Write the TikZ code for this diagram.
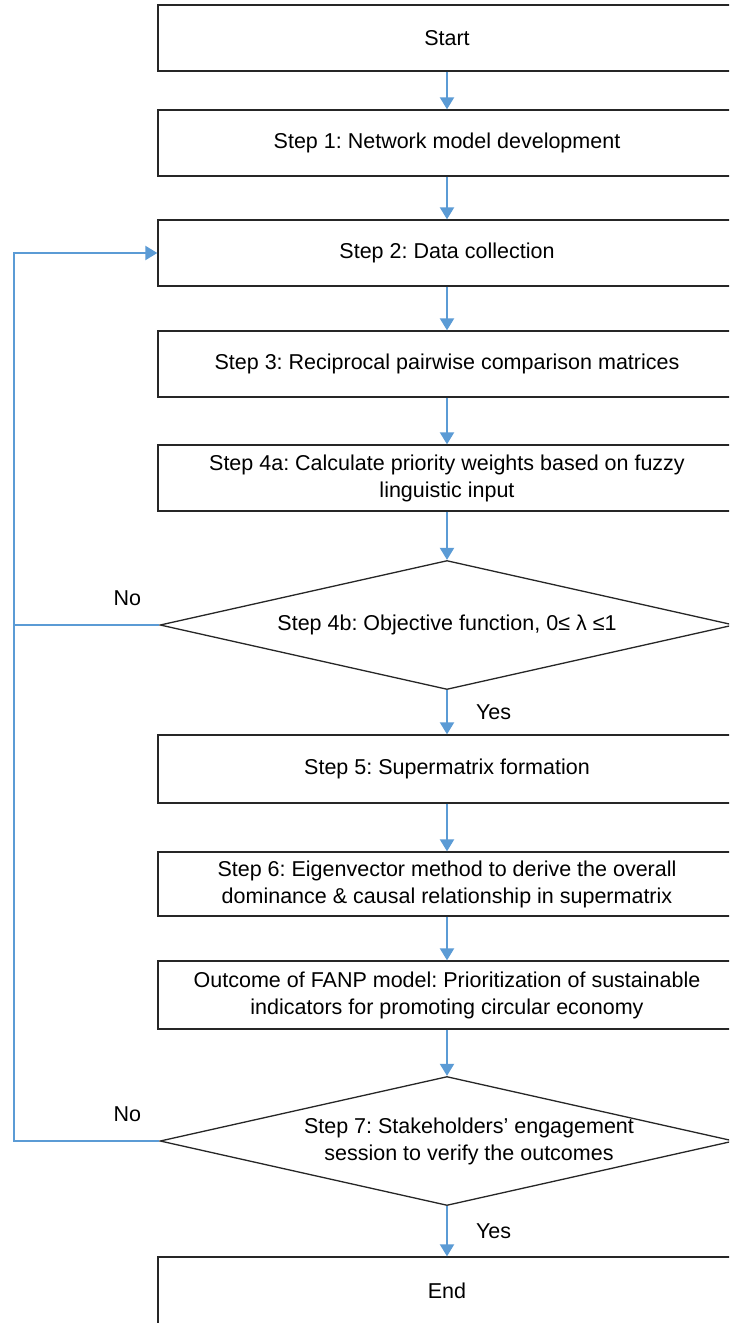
\documentclass[tikz,border=0pt]{standalone}
\usepackage{fontspec}
\setmainfont{Liberation Sans}
\usetikzlibrary{shapes.geometric,arrows.meta}
\frenchspacing

\definecolor{flowblue}{HTML}{5B9BD5}
\definecolor{boxline}{HTML}{262626}

\tikzset{
  txt/.style={font=\fontsize{10.75}{13.5}\selectfont},
  box/.style={txt, draw=boxline, line width=0.65pt, fill=white, align=center,
    minimum width=289pt, minimum height=33pt, inner sep=0pt},
  decision/.style={txt, draw=boxline, line width=0.65pt, fill=white, diamond,
    aspect=4.45, minimum width=287pt, minimum height=64.5pt, inner sep=0pt, align=center},
  flow/.style={draw=flowblue, line width=1pt, -{Triangle[width=7pt,length=6pt]}},
  link/.style={draw=flowblue, line width=1pt},
  lbl/.style={txt, inner sep=0pt}
}

\begin{document}
\begin{tikzpicture}[x=0.5pt, y=-0.5pt]
        % Page frame
        \fill[white] (0,0) rectangle (729,1323);
        \useasboundingbox (0,0) rectangle (729,1323);
        \clip (0,0) rectangle (729,1323);

        % Process boxes
        \node[box] (start) at (447,38) {Start};
        \node[box] (s1) at (447,143) {Step 1: Network model development};
        \node[box] (s2) at (447,253) {Step 2: Data collection};
        \node[box] (s3) at (447,364) {Step 3: Reciprocal pairwise comparison matrices};
        \node[box] (s4a) at (447,478) {Step 4a: Calculate priority weights based on fuzzy\\linguistic input};
        \node[decision] (d4b) at (447,625) {Step 4b: Objective function, 0≤ λ ≤1};
        \node[box, minimum height=34pt] (s5) at (447,769) {Step 5: Supermatrix formation};
        \node[box, minimum height=32pt] (s6) at (447,884) {Step 6: Eigenvector method to derive the overall\\dominance \& causal relationship in supermatrix};
        \node[box, minimum height=34pt] (out) at (447,995) {Outcome of FANP model: Prioritization of sustainable\\indicators for promoting circular economy};
        \node[decision, label={[lbl, xshift=11pt, align=center]center:{Step 7: Stakeholders’ engagement\\session to verify the outcomes}}] (d7) at (447,1141) {};
        \node[box, minimum height=34pt] (end) at (447,1291) {End};

        % Loop back line
        \coordinate (loop) at (14,253);

        % Main flow
        \draw[flow] (start) -- (s1);
        \draw[flow] (s1) -- (s2);
        \draw[flow] (s2) -- (s3);
        \draw[flow] (s3) -- (s4a);
        \draw[flow] (s4a) -- (d4b);
        \draw[flow] (d4b) -- node[lbl, midway, right=14pt] {Yes} (s5);
        \draw[flow] (s5) -- (s6);
        \draw[flow] (s6) -- (out);
        \draw[flow] (out) -- (d7);
        \draw[flow] (d7) -- node[lbl, midway, right=14pt] {Yes} (end);

        % Feedback to data collection
        \draw[link] (d4b.west) -- node[lbl, pos=0.22, above=9pt] {No} (d4b.west -| loop);
        \draw[flow] (d7.west) -- node[lbl, pos=0.22, above=9pt] {No} (d7.west -| loop) -- (loop) -- (s2.west);
\end{tikzpicture}
\end{document}
